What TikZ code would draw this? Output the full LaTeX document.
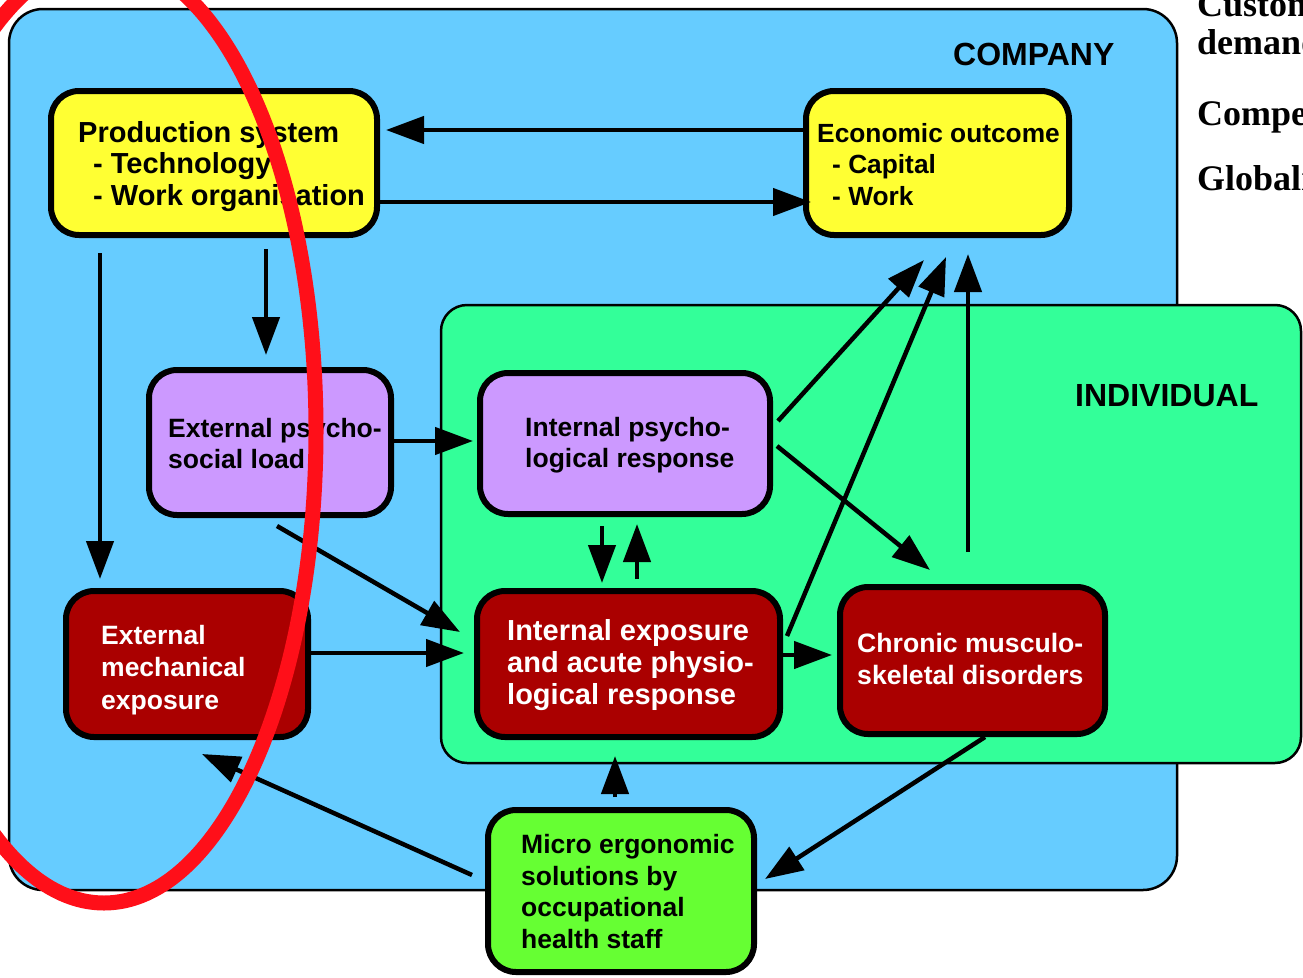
\documentclass[tikz,border=0pt]{standalone}
\usepackage{fontspec}
\setmainfont{Liberation Sans}
\newfontfamily\serifbold{Liberation Serif}
\usetikzlibrary{arrows.meta,calc}
\definecolor{companyblue}{HTML}{66CCFF}
\definecolor{indivgreen}{HTML}{33FF99}
\definecolor{boxyellow}{HTML}{FFFF33}
\definecolor{boxpurple}{HTML}{CC99FF}
\definecolor{boxred}{HTML}{AA0000}
\definecolor{boxgreen}{HTML}{66FF33}
\definecolor{ringred}{RGB}{255,15,25}
\tikzset{
  container/.style={draw=black, line width=2.5pt, inner sep=0pt},
  block/.style={draw=black, line width=6pt, rounded corners=28pt, inner sep=0pt},
  txt/.style={anchor=north west, inner sep=0pt, align=left, font=\bfseries\fontsize{26.5}{31.5}\selectfont},
  bigtxt/.style={txt, font=\bfseries\fontsize{29}{31.5}\selectfont},
  label/.style={anchor=base west, inner sep=0pt, font=\bfseries\fontsize{32}{36}\selectfont},
  side/.style={inner sep=0pt, align=left, font=\serifbold\bfseries\fontsize{36}{38}\selectfont},
  arr/.style={line width=4.5pt, -{Triangle[length=38pt,width=27pt]}},
}
\begin{document}
\begin{tikzpicture}[x=1pt,y=-1pt]
\useasboundingbox (0,0) rectangle (1303,977);
\clip (0,0) rectangle (1303,977);
\fill[white] (0,0) rectangle (1303,977);

% containers
\node[container, fill=companyblue, rounded corners=34pt, minimum width=1168pt, minimum height=881pt] (company) at (593,449.5) {};
\node[container, fill=indivgreen, rounded corners=26pt, minimum width=860pt, minimum height=458pt] (individual) at (871,534) {};
\node[label] (companylbl) at (953,65) {COMPANY};
\node[label] (indivlbl) at (1075,406) {INDIVIDUAL};

% side texts
\node[side, anchor=north west] (customer) at (1197,-7.5) {Customer\\demands};
\node[side, anchor=base west] (competition) at (1197,125) {Competition};
\node[side, anchor=base west] (global) at (1197,190) {Globalisation};

% blocks
\node[block, fill=boxyellow, minimum width=326pt, minimum height=144pt] (prod) at (214,163) {};
\node[block, fill=boxyellow, minimum width=263pt, minimum height=144pt] (econ) at (937.5,163) {};
\node[block, fill=boxpurple, minimum width=242pt, minimum height=145pt] (extpsy) at (270,442.5) {};
\node[block, fill=boxpurple, minimum width=290pt, minimum height=141pt] (intpsy) at (625,443.5) {};
\node[block, fill=boxred, minimum width=242pt, minimum height=146pt] (extmech) at (187,664) {};
\node[block, fill=boxred, minimum width=303pt, minimum height=146pt] (intexp) at (628.5,664) {};
\node[block, fill=boxred, minimum width=265pt, minimum height=147pt] (chronic) at (972.5,660.5) {};
\node[block, fill=boxgreen, minimum width=266pt, minimum height=162pt] (micro) at (621,891) {};

% block texts
\node[bigtxt] (prodtxt) at (78,121) {Production system\\\hspace*{15pt}- Technology\\\hspace*{15pt}- Work organisation};
\node[txt, font=\bfseries\fontsize{26.3}{31.5}\selectfont] (econtxt) at (817,123) {Economic outcome\\\hspace*{15pt}- Capital\\\hspace*{15pt}- Work};
\node[txt] (extpsytxt) at (168,418) {External psycho-\\social load};
\node[txt, font=\bfseries\fontsize{26.5}{31}\selectfont] (intpsytxt) at (525,417) {Internal psycho-\\logical response};
\node[txt, text=white, font=\bfseries\fontsize{26.5}{32.5}\selectfont] (extmechtxt) at (101,625) {External\\mechanical\\exposure};
\node[bigtxt, text=white, font=\bfseries\fontsize{29}{32}\selectfont] (intexptxt) at (507,619) {Internal exposure\\and acute physio-\\logical response};
\node[txt, text=white, font=\bfseries\fontsize{26.6}{32}\selectfont] (chronictxt) at (857,633) {Chronic musculo-\\skeletal disorders};
\node[txt, font=\bfseries\fontsize{26.5}{31.7}\selectfont] (microtxt) at (521,834) {Micro ergonomic\\solutions by\\occupational\\health staff};

% connectors
\draw[arr] ($(econ.west|-0,130)+(6,0)$) -- ($(prod.east|-0,130)+(6,0)$);
\draw[arr] (prod.east|-0,202) -- ($(econ.west|-0,202)+(8,0)$);
\draw[arr] ($(prod.south-|100,0)+(0,15)$) -- ($(extmech.north-|100,0)+(0,-9)$);
\draw[arr] ($(prod.south-|266,0)+(0,11)$) -- ($(extpsy.north-|266,0)+(0,-12)$);
\draw[arr] (extpsy.east|-0,441) -- ($(intpsy.west|-0,441)+(-4,0)$);
\draw[arr] ($(extpsy.south)+(7,8)$) -- ($(intexp.west)+(-14,-32)$);
\draw[arr] (extmech.east|-0,653) -- ($(intexp.west|-0,653)+(-10,0)$);
\draw[arr] ($(intpsy.south-|602,0)+(0,9)$) -- ($(intexp.north-|602,0)+(0,-5)$);
\draw[arr] ($(intexp.north-|637,0)+(0,-9)$) -- ($(intpsy.south-|637,0)+(0,7)$);
\draw[arr] ($(intexp.east|-0,655)+(-3,0)$) -- ($(chronic.west|-0,655)+(-5,0)$);
\draw[arr] ($(intpsy.east|-0,421)+(5,0)$) -- ($(econ.south-|924,0)+(0,22)$);
\draw[arr] ($(intexp.east|-0,636)+(4,0)$) -- ($(econ.south-|946,0)+(0,19)$);
\draw[arr] ($(chronic.north-|968,0)+(0,-32)$) -- ($(econ.south-|968,0)+(0,16)$);
\draw[arr] ($(intpsy.east|-0,446)+(4,0)$) -- ($(chronic.north-|930,0)+(0,-14)$);
\draw[arr] ($(micro.north-|615,0)+(0,-10)$) -- ($(intexp.south-|615,0)+(0,16)$);
\draw[arr] ($(micro.west|-0,875)+(-13,0)$) -- ($(extmech.south-|202,0)+(0,14)$);
\draw[arr] (chronic.south-|985,0) -- ($(micro.east|-0,879)+(8,0)$);

% red ring
\draw[ringred, line width=15pt] (104,431) ellipse [x radius=212, y radius=472];
\end{tikzpicture}
\end{document}
